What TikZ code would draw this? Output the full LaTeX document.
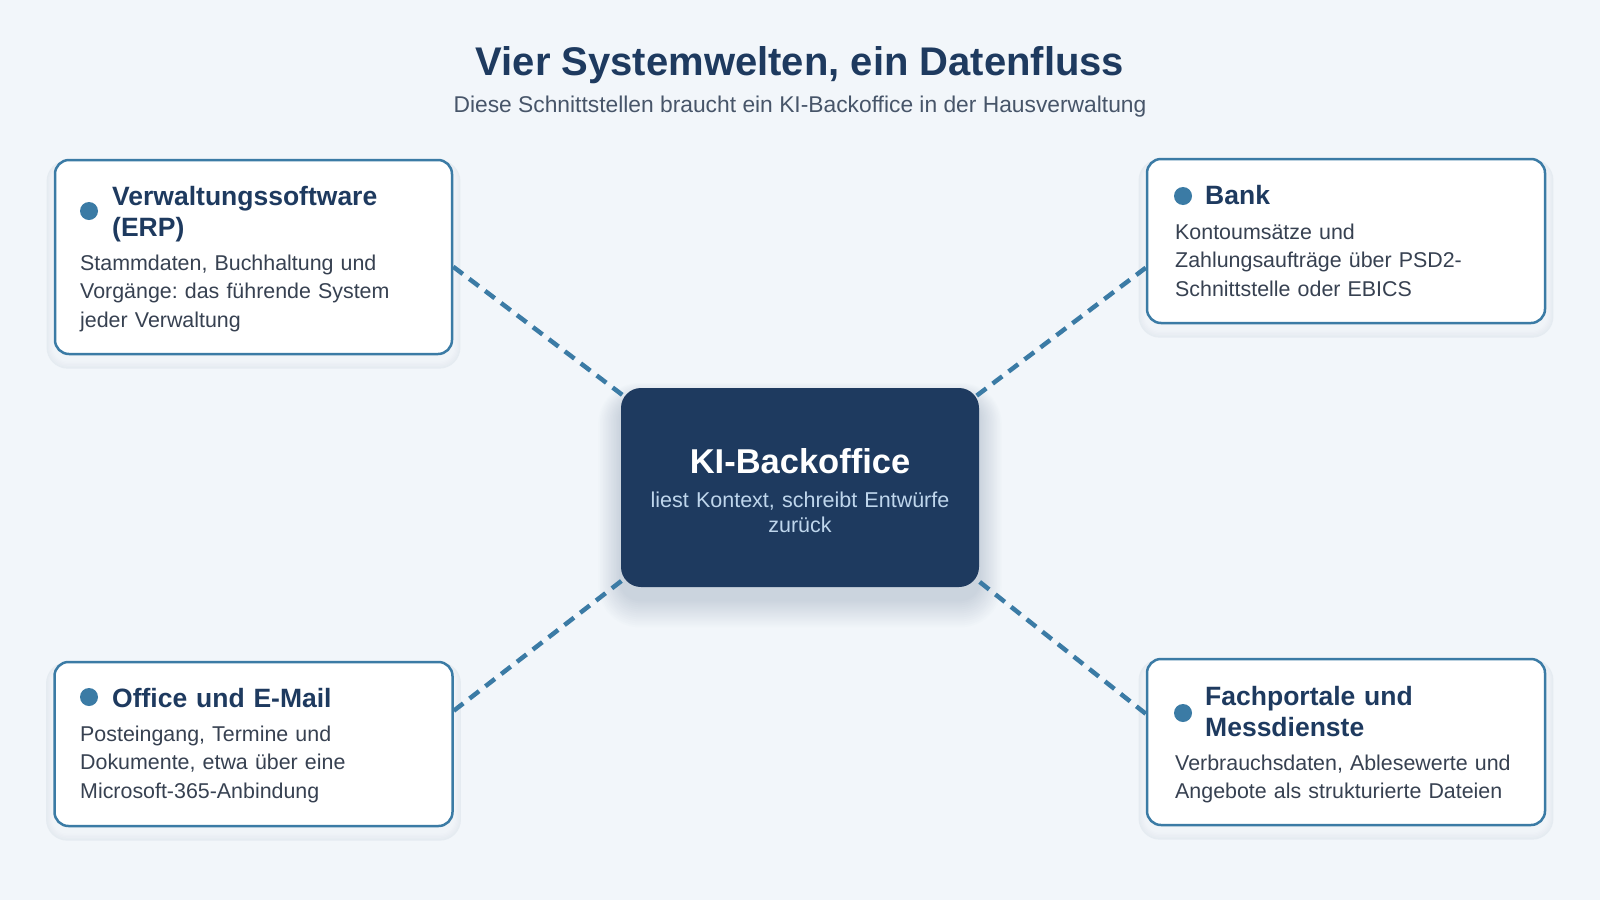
\documentclass[tikz,border=0pt]{standalone}
\usepackage{fontspec}
\setmainfont{Liberation Sans}
\frenchspacing
\pgfdeclarelayer{background}
\pgfdeclarelayer{shade}
\pgfdeclarelayer{links}
\pgfsetlayers{background,shade,links,main}
\definecolor{pagebg}{HTML}{F2F6FA}
\definecolor{navy}{HTML}{1E3A5F}
\definecolor{accent}{HTML}{3B7BA5}
\definecolor{bodytext}{HTML}{374151}
\definecolor{subtext}{HTML}{475569}
\definecolor{kisubtext}{HTML}{BFD6EC}
\tikzset{
  sysbox/.style={draw=accent, line width=2.5pt, fill=white, rounded corners=14pt, inner sep=0pt},
  kibox/.style={fill=navy, rounded corners=20pt, inner sep=0pt, minimum width=358pt, minimum height=199pt},
  bullet/.style={circle, fill=accent, inner sep=0pt, minimum size=18pt},
  syshead/.style={anchor=base west, inner sep=0pt, text=navy, align=left, text width=330pt,
    font=\bfseries\fontsize{26.5}{31}\selectfont},
  sysbody/.style={anchor=base west, inner sep=0pt, text=bodytext, align=left, text width=370pt,
    font=\fontsize{21.4}{28.5}\selectfont},
  link/.style={draw=accent, line width=4.5pt, dash pattern=on 12pt off 8pt},
}
\begin{document}
\begin{tikzpicture}[x=1pt, y=-1pt]
  \begin{pgfonlayer}{background}
    \fill[pagebg] (0,0) rectangle (1600,900);
  \end{pgfonlayer}
  \useasboundingbox (0,0) rectangle (1600,900);

  % title
  \node[anchor=base, inner sep=0pt, text=navy, font=\bfseries\fontsize{40}{44}\selectfont] (title) at (800,75)
    {Vier Systemwelten, ein Datenfluss};
  \node[anchor=base, inner sep=0pt, text=subtext, font=\fontsize{22.8}{26}\selectfont] (subtitle) at (800,112)
    {Diese Schnittstellen braucht ein KI-Backoffice in der Hausverwaltung};

  % centre
  \node[kibox] (ki) at (800,487.5) {};
  \node[anchor=base, inner sep=0pt, text=white, font=\bfseries\fontsize{34.5}{38}\selectfont] (kititle) at (800,473)
    {KI-Backoffice};
  \node[anchor=base, inner sep=0pt, text=kisubtext, align=center, text width=340pt,
    font=\fontsize{21.5}{25}\selectfont] (kisub) at (800,507)
    {liest Kontext, schreibt Entwürfe\\zurück};

  % the four systems
  \node[sysbox, minimum width=397pt, minimum height=194pt] (erp) at (253.5,257) {};
  \node[bullet] (erpdot) at (89,211) {};
  \node[syshead] (erphead) at (112,205) {Verwaltungssoftware\\(ERP)};
  \node[sysbody] (erpbody) at (80,270) {Stammdaten, Buchhaltung und\\Vorgänge: das führende System\\jeder Verwaltung};

  \node[sysbox, minimum width=398pt, minimum height=164pt] (bank) at (1346,241) {};
  \node[bullet] (bankdot) at (1183,196) {};
  \node[syshead] (bankhead) at (1205,204) {Bank};
  \node[sysbody] (bankbody) at (1175,239) {Kontoumsätze und\\Zahlungsaufträge über PSD2-\\Schnittstelle oder EBICS};

  \node[sysbox, minimum width=398pt, minimum height=164pt] (office) at (253.5,744) {};
  \node[bullet] (officedot) at (89,697) {};
  \node[syshead] (officehead) at (112,707) {Office und E-Mail};
  \node[sysbody] (officebody) at (80,741) {Posteingang, Termine und\\Dokumente, etwa über eine\\Microsoft-365-Anbindung};

  \node[sysbox, minimum width=398pt, minimum height=166pt] (fach) at (1346,742) {};
  \node[bullet] (fachdot) at (1183,713) {};
  \node[syshead] (fachhead) at (1205,705) {Fachportale und\\Messdienste};
  \node[sysbody] (fachbody) at (1175,770) {Verbrauchsdaten, Ablesewerte und\\Angebote als strukturierte Dateien};

  % soft shadows
  \begin{pgfonlayer}{shade}
    \foreach \g [evaluate=\g as \k using (15-\g)*1.3] in {14,13,...,1}
      \fill[navy!\k!pagebg, rounded corners={20pt+\g*1.5pt}]
        ([shift={({-1.6*\g},{12-1.2*\g})}]ki.north west) rectangle ([shift={({1.6*\g},{12+2*\g})}]ki.south east);
    \foreach \n in {erp,bank,office,fach}
      \foreach \g [evaluate=\g as \k using (7-\g)*0.25] in {6,5,...,1}
        \fill[navy!\k!pagebg, rounded corners={14pt+\g*1.2pt}]
          ([shift={({-1.2*\g},{5-0.6*\g})}]\n.north west) rectangle ([shift={({1.2*\g},{5+1.4*\g})}]\n.south east);
  \end{pgfonlayer}

  % dashed links, behind the boxes
  \begin{pgfonlayer}{links}
    \draw[link] ([shift={(0,108)}]erp.north east) -- ([shift={(8,12)}]ki.north west);
    \draw[link] ([shift={(0,110)}]bank.north west) -- ([shift={(-8,12)}]ki.north east);
    \draw[link] ([shift={(0,50)}]office.north east) -- ([shift={(8,-12)}]ki.south west);
    \draw[link] ([shift={(0,56)}]fach.north west) -- ([shift={(-8,-12)}]ki.south east);
  \end{pgfonlayer}
\end{tikzpicture}
\end{document}
